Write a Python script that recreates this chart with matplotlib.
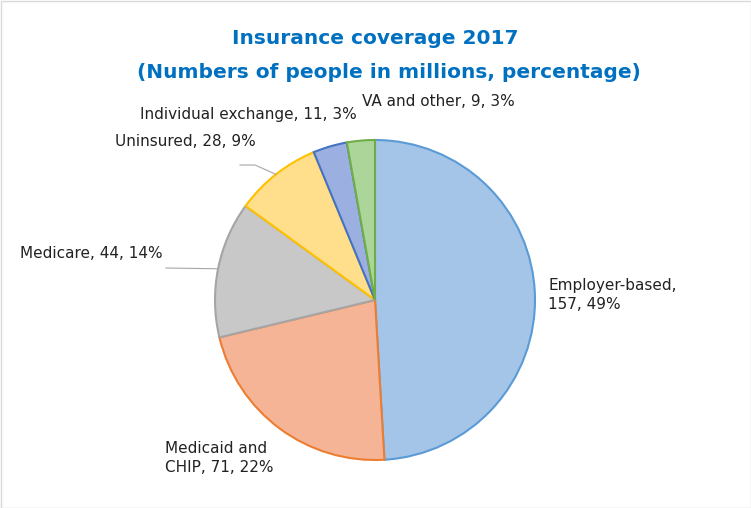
import matplotlib
matplotlib.use("Agg")
import matplotlib.pyplot as plt
import numpy as np

categories = ["Employer-based", "Medicaid and CHIP", "Medicare", "Uninsured", "Individual exchange", "VA and other"]
values = [157, 71, 44, 28, 11, 9]
percents = [49, 22, 14, 9, 3, 3]
label_texts = ["Employer-based,\n157, 49%", "Medicaid and\nCHIP, 71, 22%", "Medicare, 44, 14%",
               "Uninsured, 28, 9%", "Individual exchange, 11, 3%", "VA and other, 9, 3%"]
fills = ["#a4c4e8", "#f5b496", "#c8c8c8", "#ffdf8c", "#9bb0e0", "#acd59a"]
edges = ["#5b9bd5", "#ed7d31", "#a5a5a5", "#ffc000", "#4472c4", "#70ad47"]

W, H = 751, 508
fig = plt.figure(figsize=(W/100, H/100), dpi=100)
ax = fig.add_axes([0, 0, 1, 1])
ax.set_xlim(0, W); ax.set_ylim(0, H); ax.set_aspect("equal"); ax.axis("off")
ax.add_patch(plt.Rectangle((0.5, 0.5), W-1, H-1, fill=False, ec="#d9d9d9", lw=1))

cx, cy, r = 375, H-300, 160
wedges, _ = ax.pie(values, colors=fills, startangle=90, counterclock=False,
                   center=(cx, cy), radius=r, frame=True,
                   wedgeprops=dict(linewidth=1.5))
for w, e in zip(wedges, edges):
    w.set_edgecolor(e)
ax.set_xlim(0, W); ax.set_ylim(0, H); ax.axis("off")

fs = 11
pos = [(548, 295, "left"), (165, 458, "left"), (20, 253, "left"),
       (115, 142, "left"), (140, 115, "left"), (362, 102, "left")]
for t, (x, y, ha) in zip(label_texts, pos):
    ax.text(x, H-y, t, fontsize=fs, ha=ha, va="center", color="#222222", linespacing=1.4)

def mid_point(w, frac=1.0):
    a = np.deg2rad((w.theta1 + w.theta2) / 2)
    return cx + r*frac*np.cos(a), cy + r*frac*np.sin(a)
mx, my = mid_point(wedges[2])
ax.plot([166, mx], [H-268, my], color="#a6a6a6", lw=0.8)
ux, uy = mid_point(wedges[3])
ax.plot([240, 255, ux], [H-165, H-165, uy], color="#a6a6a6", lw=0.8)

fig.text(375/W, 1-38/H, "Insurance coverage 2017", ha="center", va="center",
         fontsize=14.5, fontweight="bold", color="#0070c0")
fig.text(389/W, 1-72/H, "(Numbers of people in millions, percentage)", ha="center", va="center",
         fontsize=14.5, fontweight="bold", color="#0070c0")
fig.savefig("out.png", dpi=100)
